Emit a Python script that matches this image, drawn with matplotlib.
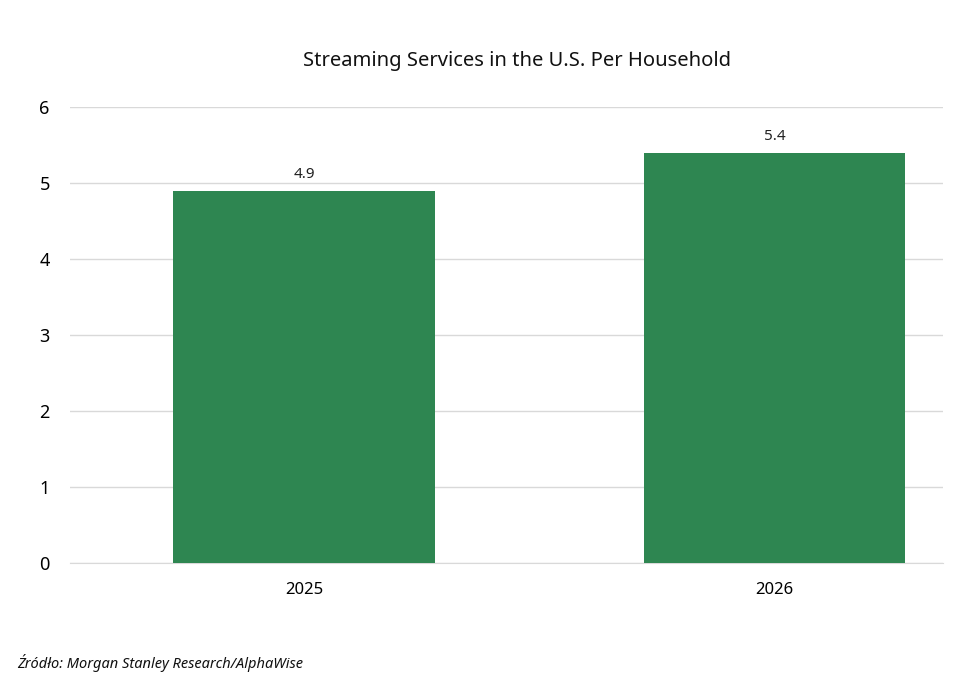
import matplotlib
matplotlib.use('Agg')
import matplotlib.pyplot as plt

plt.rcParams['font.family'] = ['Noto Sans', 'DejaVu Sans']

years = ['2025', '2026']
values = [4.9, 5.4]

fig = plt.figure(figsize=(9.58, 6.79), dpi=100)
ax = fig.add_axes([0.073, 0.171, 0.911, 0.671])
x = range(len(years))
bars = ax.bar(x, values, width=0.556, color='#2e8651', zorder=3)
for xi, v in zip(x, values):
    ax.text(xi, v + 0.12, f'{v}', ha='center', va='bottom', fontsize=11, fontweight='bold', color='#222222')

ax.set_xlim(-0.497, 1.357)
ax.set_ylim(0, 6)
ax.set_xticks(list(x))
ax.set_xticklabels(years, fontsize=12)
ax.set_yticks(range(7))
ax.tick_params(axis='y', labelsize=13, length=0, pad=22)
ax.tick_params(axis='x', length=0, pad=14)
ax.grid(axis='y', color='#d9d9d9', linewidth=1, zorder=0)
for s in ['top', 'right', 'left']:
    ax.spines[s].set_visible(False)
ax.spines['bottom'].set_color('#d9d9d9')
for lbl in ax.get_yticklabels():
    lbl.set_horizontalalignment('left')

fig.text(0.54, 0.91, 'Streaming Services in the U.S. Per Household', ha='center', va='center', fontsize=14.5, color='#111111')
fig.text(0.018, 0.023, 'Źródło: Morgan Stanley Research/AlphaWise', ha='left', va='center', fontsize=10.5, style='italic', color='#111111')

fig.savefig('out.png', dpi=100)
